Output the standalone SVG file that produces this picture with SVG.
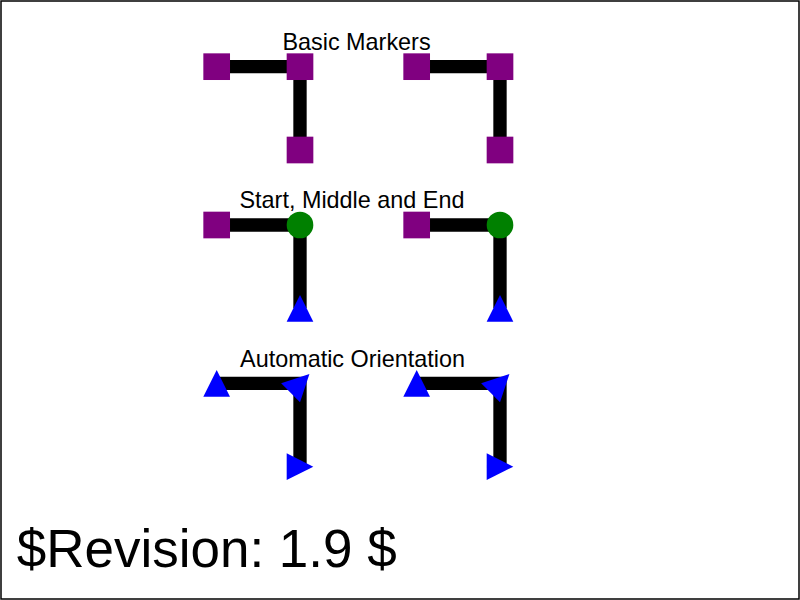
<svg xmlns="http://www.w3.org/2000/svg" width="800" height="600" viewBox="0 0 800 600">
<style>
.title{font-family:"Liberation Sans",Arial,sans-serif;font-size:23.4px;fill:#000;text-anchor:middle}
.rev{font-family:"Liberation Sans",Arial,sans-serif;font-size:53px;fill:#000}
.line{fill:none;stroke:#000;stroke-width:13.33}
</style>
<defs>
<marker id="square" markerUnits="userSpaceOnUse" markerWidth="27" markerHeight="27" viewBox="-13.5 -13.5 27 27" refX="0" refY="0" orient="0" overflow="visible">
<rect x="-13.33" y="-13.33" width="26.67" height="26.67" fill="#800080"/>
</marker>
<marker id="circle" markerUnits="userSpaceOnUse" markerWidth="27" markerHeight="27" viewBox="-13.5 -13.5 27 27" refX="0" refY="0" orient="0" overflow="visible">
<circle cx="0" cy="0" r="13.33" fill="#008000"/>
</marker>
<marker id="tri" markerUnits="userSpaceOnUse" markerWidth="27" markerHeight="27" viewBox="-13.5 -13.5 27 27" refX="0" refY="0" orient="0" overflow="visible">
<path d="M0,-13.33 L13.33,13.33 L-13.33,13.33 z" fill="#0000ff"/>
</marker>
<marker id="triAuto" markerUnits="userSpaceOnUse" markerWidth="27" markerHeight="27" viewBox="-13.5 -13.5 27 27" refX="0" refY="0" orient="auto" overflow="visible">
<path d="M0,-13.33 L13.33,13.33 L-13.33,13.33 z" fill="#0000ff"/>
</marker>
</defs>
<rect x="1" y="1" width="798" height="598" fill="#fff" stroke="#000" stroke-width="1.5"/>
<g id="labels">
<text class="title" x="356.5" y="50">Basic Markers</text>
<text class="title" x="352" y="208">Start, Middle and End</text>
<text class="title" x="352.5" y="366.5">Automatic Orientation</text>
</g>
<g id="connectors">
<path id="basic-left" class="line" d="M216.67,66.67 L300,66.67 L300,150" marker-start="url(#square)" marker-mid="url(#square)" marker-end="url(#square)"/>
<path id="basic-right" class="line" d="M416.67,66.67 L500,66.67 L500,150" marker-start="url(#square)" marker-mid="url(#square)" marker-end="url(#square)"/>
<path id="sme-left" class="line" d="M216.67,225 L300,225 L300,308.33" marker-start="url(#square)" marker-mid="url(#circle)" marker-end="url(#tri)"/>
<path id="sme-right" class="line" d="M416.67,225 L500,225 L500,308.33" marker-start="url(#square)" marker-mid="url(#circle)" marker-end="url(#tri)"/>
<path id="auto-left" class="line" d="M216.67,383.33 L300,383.33 L300,466.67" marker-start="url(#triAuto)" marker-mid="url(#triAuto)" marker-end="url(#triAuto)"/>
<path id="auto-right" class="line" d="M416.67,383.33 L500,383.33 L500,466.67" marker-start="url(#triAuto)" marker-mid="url(#triAuto)" marker-end="url(#triAuto)"/>
</g>
<text class="rev" x="16.67" y="566.67">$Revision: 1.9 $</text>
</svg>
